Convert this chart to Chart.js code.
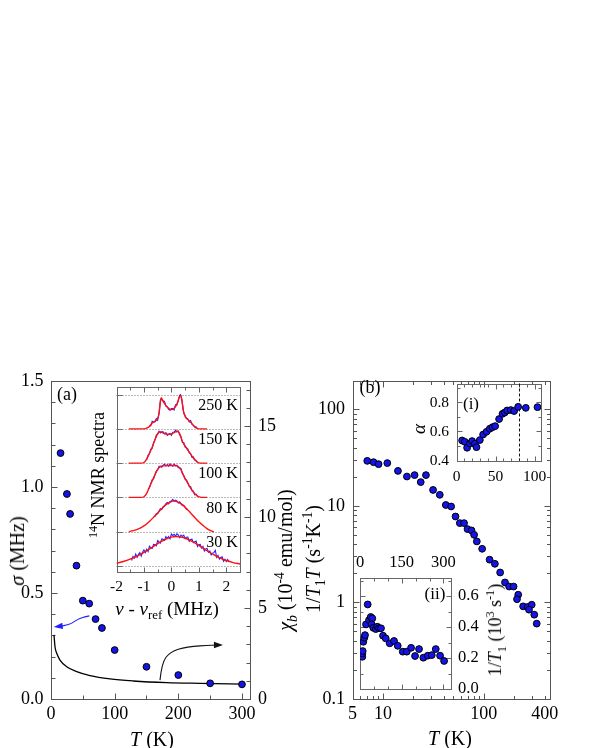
<!DOCTYPE html>
<html><head><meta charset="utf-8">
<script src="https://cdn.jsdelivr.net/npm/chart.js@4.4.1/dist/chart.umd.min.js"></script>
<style>
html,body{margin:0;padding:0;background:#fff;}
#wrap{position:relative;width:598px;height:748px;overflow:hidden;background:#fff;}
canvas{position:absolute;left:0;top:0;}
.lbl{position:absolute;font-family:"Liberation Serif","Times New Roman",serif;color:#000;white-space:nowrap;line-height:1;transform:translate(-50%,-50%);}
.rot{transform:translate(-50%,-50%) rotate(-90deg);}
sub,sup{font-size:0.68em;line-height:0;}
</style></head>
<body><div id="wrap">
<canvas id="cA" width="598" height="748"></canvas>
<canvas id="cAi" width="598" height="748"></canvas>
<canvas id="cB" width="598" height="748"></canvas>
<canvas id="cBi" width="598" height="748"></canvas>
<canvas id="cBii" width="598" height="748"></canvas>
<div class="lbl rot" style="left:17px;top:551px;font-size:20px;"><i>σ</i> (MHz)</div>
<div class="lbl rot" style="left:285px;top:560px;font-size:20px;"><i>χ<sub>b</sub></i> (10<sup>-4</sup> emu/mol)</div>
<div class="lbl" style="left:152px;top:739px;font-size:20px;"><i>T</i> (K)</div>
<div class="lbl" style="left:67px;top:394px;font-size:18px;">(a)</div>
<div class="lbl rot" style="left:98px;top:475px;font-size:18px;"><sup>14</sup>N NMR spectra</div>
<div class="lbl" style="left:167px;top:608px;font-size:19px;"><i>ν</i> - <i>ν</i><sub>ref</sub> (MHz)</div>
<div class="lbl rot" style="left:313px;top:559px;font-size:20px;">1/<i>T</i><sub>1</sub><i>T</i> (s<sup>-1</sup>K<sup>-1</sup>)</div>
<div class="lbl" style="left:450px;top:738px;font-size:20px;"><i>T</i> (K)</div>
<div class="lbl" style="left:370px;top:387px;font-size:18px;">(b)</div>
<div class="lbl" style="left:471px;top:403px;font-size:17px;">(i)</div>
<div class="lbl rot" style="left:418px;top:429px;font-size:19px;"><i>α</i></div>
<div class="lbl" style="left:435px;top:593px;font-size:17px;">(ii)</div>
<div class="lbl rot" style="left:495px;top:630px;font-size:18px;">1/<i>T</i><sub>1</sub> (10<sup>3</sup> s<sup>-1</sup>)</div>
</div>
<script>
// ---------------- DATA ----------------
// Panel (a): linewidth sigma vs T
const sigmaT   = [15, 25, 30, 40, 50, 60, 70, 80, 100, 150, 200, 250, 300];
const sigmaMHz = [1.16, 0.967, 0.873, 0.629, 0.464, 0.45, 0.377, 0.335, 0.231, 0.152, 0.113, 0.074, 0.069];
// Panel (a): susceptibility chi_b (10^-4 emu/mol) vs T
const chiT = [4.7, 6.3, 9, 14.1, 24.7, 40.4, 61.3, 92.7, 129, 182, 234, 302];
const chiB = [3.52, 2.87, 2.51, 2.14, 1.77, 1.50, 1.28, 1.10, 0.99, 0.90, 0.86, 0.82];
const sigmaTicks = [0, 0.5, 1.0, 1.5];
const sigmaTickLabels = ['0.0', '0.5', '1.0', '1.5'];
const chiTicks = [0, 5, 10, 15];
const chiTickLabels = ['0', '5', '10', '15'];
const tempTicksA = [0, 100, 200, 300];
const tempTickLabelsA = ['0', '100', '200', '300'];
// Inset (a): 14N NMR spectra (frequency MHz, normalised intensity)
const specLabels  = ['250 K', '150 K', '100 K', '80 K', '30 K'];
const specOffsets = [4, 3, 2, 1, 0];
const fit250 = [[-1.55,0],[-1.0,0],[-0.9,0.02],[-0.8,0.07],[-0.7,0.17],[-0.6,0.22],[-0.5,0.3],[-0.45,0.45],[-0.4,0.8],[-0.37,0.9],[-0.3,0.8],[-0.2,0.68],[-0.1,0.6],[0,0.56],[0.1,0.6],[0.2,0.72],[0.28,0.9],[0.33,0.97],[0.38,0.85],[0.43,0.55],[0.5,0.36],[0.6,0.27],[0.7,0.2],[0.8,0.1],[0.9,0.03],[1.0,0],[1.3,0]];
const fit150 = [[-1.55,0],[-1.1,0],[-1.0,0.02],[-0.9,0.12],[-0.8,0.28],[-0.7,0.46],[-0.6,0.68],[-0.5,0.86],[-0.42,0.92],[-0.3,0.88],[-0.15,0.84],[0,0.85],[0.12,0.9],[0.22,0.93],[0.3,0.86],[0.4,0.63],[0.5,0.5],[0.6,0.38],[0.7,0.26],[0.8,0.15],[0.9,0.06],[1.0,0.01],[1.1,0],[1.3,0]];
const fit100 = [[-1.55,0],[-1.1,0],[-1.0,0.02],[-0.9,0.12],[-0.8,0.3],[-0.7,0.48],[-0.6,0.66],[-0.5,0.82],[-0.4,0.9],[-0.3,0.92],[-0.1,0.93],[0.1,0.93],[0.25,0.9],[0.35,0.8],[0.45,0.63],[0.55,0.48],[0.65,0.34],[0.75,0.21],[0.85,0.11],[0.95,0.04],[1.05,0.01],[1.15,0],[1.3,0]];
const fit80  = [[-1.55,0],[-1.4,0.03],[-1.2,0.08],[-1.0,0.17],[-0.8,0.3],[-0.6,0.46],[-0.4,0.63],[-0.2,0.79],[0,0.88],[0.1,0.9],[0.2,0.88],[0.4,0.79],[0.6,0.63],[0.8,0.46],[1.0,0.29],[1.2,0.15],[1.35,0.06],[1.5,0.01],[1.55,0]];
const fit30  = [[-2.0,0.08],[-1.75,0.13],[-1.5,0.2],[-1.25,0.29],[-1.0,0.4],[-0.75,0.52],[-0.5,0.65],[-0.25,0.76],[0,0.84],[0.15,0.86],[0.3,0.85],[0.5,0.81],[0.75,0.72],[1.0,0.6],[1.25,0.47],[1.5,0.35],[1.75,0.24],[2.0,0.16],[2.25,0.1],[2.5,0.06]];
const raw250 = [[-0.8,0.09],[-0.75,0.09],[-0.7,0.22],[-0.65,0.2],[-0.6,0.2],[-0.55,0.3],[-0.5,0.25],[-0.45,0.46],[-0.4,0.83],[-0.37,0.89],[-0.33,0.82],[-0.3,0.82],[-0.25,0.8],[-0.2,0.66],[-0.15,0.64],[-0.1,0.57],[-0.05,0.54],[0,0.59],[0.05,0.59],[0.1,0.55],[0.15,0.7],[0.2,0.7],[0.25,0.82],[0.3,0.98],[0.33,1.0],[0.36,0.94],[0.4,0.74],[0.45,0.46],[0.5,0.39],[0.55,0.3],[0.6,0.29],[0.65,0.2],[0.7,0.24],[0.75,0.13],[0.8,0.11],[0.85,0.05],[0.9,0.06],[0.95,0.0]];
const raw150 = [[-0.9,0.1],[-0.85,0.23],[-0.8,0.28],[-0.75,0.41],[-0.7,0.43],[-0.65,0.59],[-0.6,0.67],[-0.55,0.82],[-0.5,0.84],[-0.45,0.93],[-0.4,0.88],[-0.35,0.91],[-0.3,0.91],[-0.25,0.85],[-0.2,0.89],[-0.15,0.81],[-0.1,0.84],[-0.05,0.865],[0,0.81],[0.05,0.9],[0.1,0.9],[0.15,0.96],[0.2,0.91],[0.25,0.94],[0.3,0.83],[0.35,0.77],[0.4,0.61],[0.45,0.6],[0.5,0.47],[0.55,0.45],[0.6,0.41],[0.65,0.3],[0.7,0.28],[0.75,0.17],[0.8,0.18],[0.85,0.09],[0.9,0.08],[0.95,0.01]];
const raw100 = [[-0.85,0.24],[-0.8,0.28],[-0.75,0.4],[-0.7,0.52],[-0.65,0.54],[-0.6,0.66],[-0.55,0.77],[-0.5,0.8],[-0.45,0.91],[-0.4,0.91],[-0.35,0.88],[-0.3,0.94],[-0.25,0.965],[-0.2,0.92],[-0.15,0.96],[-0.1,0.91],[-0.05,0.98],[0,0.94],[0.05,0.91],[0.1,0.97],[0.15,0.92],[0.2,0.94],[0.25,0.87],[0.3,0.87],[0.35,0.84],[0.4,0.7],[0.45,0.64],[0.5,0.525],[0.55,0.51],[0.6,0.43],[0.65,0.32],[0.7,0.315],[0.75,0.2],[0.8,0.18],[0.85,0.08],[0.9,0.095],[0.95,0.03]];
const raw80  = [[-0.65,0.44],[-0.6,0.45],[-0.55,0.53],[-0.5,0.525],[-0.45,0.6],[-0.4,0.67],[-0.35,0.65],[-0.3,0.73],[-0.25,0.75],[-0.2,0.82],[-0.15,0.85],[-0.1,0.815],[-0.05,0.89],[0,0.89],[0.05,0.94],[0.1,0.89],[0.15,0.92],[0.2,0.9],[0.25,0.84],[0.3,0.87],[0.35,0.82],[0.4,0.76],[0.45,0.77],[0.5,0.71],[0.55,0.65],[0.6,0.65]];
const raw30  = [[-1.45,0.16],[-1.4,0.28],[-1.35,0.23],[-1.3,0.35],[-1.25,0.25],[-1.2,0.34],[-1.15,0.39],[-1.1,0.285],[-1.05,0.4],[-1.0,0.47],[-0.95,0.39],[-0.9,0.49],[-0.85,0.42],[-0.8,0.58],[-0.75,0.53],[-0.7,0.51],[-0.65,0.63],[-0.6,0.62],[-0.55,0.59],[-0.5,0.74],[-0.45,0.7],[-0.4,0.67],[-0.35,0.79],[-0.3,0.78],[-0.25,0.75],[-0.2,0.86],[-0.15,0.81],[-0.1,0.86],[-0.05,0.79],[0,0.93],[0.05,0.89],[0.1,0.925],[0.15,0.87],[0.2,0.94],[0.25,0.905],[0.3,0.83],[0.35,0.9],[0.4,0.86],[0.45,0.9],[0.5,0.8],[0.55,0.84],[0.6,0.845],[0.65,0.72],[0.7,0.77],[0.75,0.78],[0.8,0.68],[0.85,0.71],[0.9,0.73],[0.95,0.57],[1.0,0.62],[1.05,0.63],[1.1,0.52],[1.15,0.57],[1.2,0.44],[1.25,0.5],[1.3,0.515],[1.35,0.4],[1.4,0.44],[1.45,0.325],[1.5,0.37],[1.55,0.39],[1.6,0.46],[1.65,0.25],[1.7,0.31],[1.75,0.2],[1.8,0.25],[1.85,0.27],[1.9,0.14],[1.95,0.195],[2.0,0.13],[2.05,0.19],[2.1,0.12]];
const freqTicks = [-2, -1, 0, 1, 2];
const freqTickLabels = ['-2', '-1', '0', '1', '2'];
// Panel (b): 1/T1T vs T
const rateT = [7.0, 8.08, 9.06, 11.06, 14.1, 17.3, 20.6, 23.7, 26.7, 31.4, 36.6, 42.0, 47.4, 52.4, 57.8, 63.7, 68.9, 75.5, 80.1, 85.2, 96.2, 114, 128.6, 145, 162, 178, 197, 219, 213, 245, 272, 298, 280, 316, 334];
const rateT1T = [29.2, 28.3, 27.0, 27.7, 23.0, 20.1, 20.8, 17.6, 20.8, 14.6, 13.0, 10.2, 9.84, 7.75, 6.62, 6.62, 5.74, 5.56, 5.01, 4.28, 3.59, 2.77, 2.51, 2.04, 1.61, 1.46, 1.46, 1.20, 1.08, 0.91, 0.896, 0.946, 0.841, 0.746, 0.603];
const tempTicksB = [5, 10, 100, 400];
const tempTickLabelsB = ['5', '10', '100', '400'];
const rateTicks = [0.1, 1, 10, 100];
const rateTickLabels = ['0.1', '1', '10', '100'];
// Inset (i): stretching exponent alpha vs T
const alphaT = [7.2, 10.6, 13.6, 17.1, 20, 23.5, 25.6, 29.9, 34.1, 38.5, 42.7, 46.2, 49.5, 54.6, 59, 61.9, 64.9, 69.6, 73.8, 79, 88.8, 103.8];
const alphaV = [0.538, 0.529, 0.488, 0.517, 0.534, 0.515, 0.492, 0.541, 0.579, 0.598, 0.619, 0.630, 0.637, 0.686, 0.722, 0.731, 0.745, 0.748, 0.741, 0.770, 0.763, 0.768];
const alphaMarkT = [80];
const alphaTicks = [0.4, 0.6, 0.8];
const alphaTickLabels = ['0.4', '0.6', '0.8'];
const alphaTTicks = [0, 50, 100];
const alphaTTickLabels = ['0', '50', '100'];
// Inset (ii): 1/T1 (10^3 s^-1) vs T
const t1T = [8.3, 8.3, 9.7, 11.9, 15.5, 18, 21.6, 27.7, 32.4, 38.5, 44.2, 42, 47.8, 56.5, 62.2, 68.3, 75.5, 82.7, 92.4, 106.8, 122.3, 135.6, 153.6, 168, 183.5, 197.8, 212.2, 227.7, 243.5, 257.9, 272.3, 287.8, 302.2];
const t1V = [0.208, 0.230, 0.245, 0.305, 0.331, 0.348, 0.417, 0.546, 0.445, 0.465, 0.456, 0.417, 0.395, 0.387, 0.402, 0.392, 0.392, 0.344, 0.327, 0.295, 0.310, 0.279, 0.241, 0.241, 0.266, 0.213, 0.258, 0.202, 0.215, 0.219, 0.258, 0.215, 0.181];
const t1Ticks = [0, 0.2, 0.4, 0.6];
const t1TickLabels = ['0.0', '0.2', '0.4', '0.6'];
const t1TTicks = [0, 150, 300];
const t1TTickLabels = ['0', '150', '300'];
// Annotation arrows (data coordinates)
const arrowSigma = [[60.2,0.392],[52,0.386],[45.5,0.381],[38,0.368],[32.5,0.357],[22,0.346],[9,0.341]];
const arrowChi = [[171.2,1.04],[173.9,1.96],[186.9,2.6],[213.1,2.87],[254.9,2.97],[265.4,2.97]];

// ---------------- HELPERS ----------------
const FONT = '"Liberation Serif", "Times New Roman", serif';
const BLUE = '#1414e8';
const W = 598, H = 748;
function axis(type, pos, min, max, vals, labels, size, pad, boxSize, show) {
  return {
    type, position: pos, min, max, display: true,
    grid: { display: false, drawTicks: false }, border: { display: false },
    afterFit: s => { if (s.isHorizontal()) s.height = boxSize; else s.width = boxSize; },
    afterBuildTicks: s => { s.ticks = vals.map(v => ({ value: v })); },
    ticks: { display: show !== false, autoSkip: false, maxRotation: 0, minRotation: 0, padding: pad,
      color: '#000', font: { family: FONT, size }, callback: (v, i) => labels[i] }
  };
}
function rng(a, b, s) { const o = []; for (let k = 0; a + k * s <= b + 1e-9; k++) o.push(+(a + k * s).toFixed(6)); return o; }
function logMajor(min, max) { const o = []; for (let e = -3; e <= 4; e++) { const v = Math.pow(10, e); if (v >= min && v <= max) o.push(v); } return o; }
function logMinor(min, max) { const o = []; for (let e = -3; e <= 4; e++) for (let m = 2; m <= 9; m++) { const v = m * Math.pow(10, e); if (v >= min && v <= max) o.push(v); } return o; }
function framePlugin(spec) {
  return { id: 'frameTicks', beforeDatasetsDraw(chart) {
    const ctx = chart.ctx, a = chart.chartArea;
    ctx.save(); ctx.strokeStyle = spec.color; ctx.lineWidth = 1;
    const l = Math.round(a.left) + 0.5, t = Math.round(a.top) + 0.5, r = Math.round(a.right) + 0.5, b = Math.round(a.bottom) + 0.5;
    ctx.strokeRect(l, t, r - l, b - t);
    spec.axes.forEach(ax => {
      const sc = chart.scales[ax.id];
      const draw = (vals, len) => vals.forEach(v => {
        if (v < sc.min - 1e-9 || v > sc.max + 1e-9) return;
        const p = Math.round(sc.getPixelForValue(v)) + 0.5;
        ax.sides.forEach(side => {
          ctx.beginPath();
          if (side === 'bottom') { ctx.moveTo(p, b); ctx.lineTo(p, b - len); }
          else if (side === 'top') { ctx.moveTo(p, t); ctx.lineTo(p, t + len); }
          else if (side === 'left') { ctx.moveTo(l, p); ctx.lineTo(l + len, p); }
          else { ctx.moveTo(r, p); ctx.lineTo(r - len, p); }
          ctx.stroke();
        });
      });
      draw(ax.minor || [], spec.minorLen); draw(ax.major || [], spec.majorLen);
    });
    ctx.restore();
  } };
}
function pts(xs, ys) { return xs.map((x, i) => ({ x, y: ys[i] })); }
function baseOpts(pad, scales) {
  return { responsive: false, animation: false, events: [], devicePixelRatio: 1,
    layout: { padding: pad }, scales,
    plugins: { legend: { display: false }, tooltip: { enabled: false } } };
}
function scatterDs(data, xId, yId) {
  return { data, xAxisID: xId, yAxisID: yId, showLine: false, pointRadius: 3.4, pointHoverRadius: 3.4,
    pointBackgroundColor: BLUE, pointBorderColor: '#000', pointBorderWidth: 1 };
}
function drawArrow(ctx, p, color, lw) {
  ctx.save(); ctx.strokeStyle = color; ctx.fillStyle = color; ctx.lineWidth = lw;
  const n = p.length;
  ctx.beginPath(); ctx.moveTo(p[0].x, p[0].y);
  for (let i = 1; i < n - 2; i++) { ctx.quadraticCurveTo(p[i].x, p[i].y, (p[i].x + p[i + 1].x) / 2, (p[i].y + p[i + 1].y) / 2); }
  ctx.quadraticCurveTo(p[n - 2].x, p[n - 2].y, p[n - 1].x, p[n - 1].y);
  ctx.stroke();
  const ang = Math.atan2(p[n - 1].y - p[n - 2].y, p[n - 1].x - p[n - 2].x);
  const tip = { x: p[n - 1].x + Math.cos(ang) * 3, y: p[n - 1].y + Math.sin(ang) * 3 };
  const L = 9, Wd = 3.2;
  ctx.beginPath(); ctx.moveTo(tip.x, tip.y);
  ctx.lineTo(tip.x - L * Math.cos(ang) + Wd * Math.sin(ang), tip.y - L * Math.sin(ang) - Wd * Math.cos(ang));
  ctx.lineTo(tip.x - L * Math.cos(ang) - Wd * Math.sin(ang), tip.y - L * Math.sin(ang) + Wd * Math.cos(ang));
  ctx.closePath(); ctx.fill();
  ctx.restore();
}

// ---------------- PANEL (a) ----------------
// chart area: x 51..250, y 381..699
new Chart(document.getElementById('cA'), {
  type: 'scatter',
  data: { datasets: [
    scatterDs(pts(sigmaT, sigmaMHz), 'x', 'y'),
    { data: pts(chiT, chiB), xAxisID: 'x', yAxisID: 'y1', showLine: true, pointRadius: 0, borderColor: '#000', borderWidth: 1.3, cubicInterpolationMode: 'monotone' }
  ] },
  options: baseOpts({ left: 0, right: 0, top: 381, bottom: 0 }, {
    x: axis('linear', 'bottom', 0, 312.6, tempTicksA, tempTickLabelsA, 18, 4, H - 699),
    y: axis('linear', 'left', 0, 1.5, sigmaTicks, sigmaTickLabels, 18, 7.5, 51),
    y1: axis('linear', 'right', 0, 17.47, chiTicks, chiTickLabels, 18, 8, W - 250)
  }),
  plugins: [framePlugin({ color: '#555', majorLen: 6, minorLen: 4, axes: [
    { id: 'x', major: rng(0, 300, 100), minor: rng(0, 300, 50), sides: ['bottom'] },
    { id: 'y', major: rng(0, 1.5, 0.5), minor: rng(0, 1.5, 0.1), sides: ['left'] },
    { id: 'y1', major: rng(0, 15, 5), minor: rng(0, 17, 1), sides: ['right'] }
  ] }), { id: 'arrows', afterDatasetsDraw(chart) {
    const sx = chart.scales.x, sy = chart.scales.y, sy1 = chart.scales.y1;
    drawArrow(chart.ctx, arrowSigma.map(([t, v]) => ({ x: sx.getPixelForValue(t), y: sy.getPixelForValue(v) })), '#1f1fff', 1.1);
    drawArrow(chart.ctx, arrowChi.map(([t, v]) => ({ x: sx.getPixelForValue(t), y: sy1.getPixelForValue(v) })), '#111', 1.1);
  } }]
});

// ---------------- INSET (a) ----------------
// chart area: x 116.5..240, y 387..572
const fits = [fit250, fit150, fit100, fit80, fit30];
const raws = [raw250, raw150, raw100, raw80, raw30];
const specDs = [];
fits.forEach((f, i) => specDs.push({ data: f.map(([x, y]) => ({ x, y: y + specOffsets[i] })), showLine: true, pointRadius: 0,
  borderColor: '#ff1010', borderWidth: 1.4, cubicInterpolationMode: 'monotone', order: 0 }));
raws.forEach((r, i) => specDs.push({ data: r.map(([x, y]) => ({ x, y: y + specOffsets[i] })), showLine: true, pointRadius: 0,
  borderColor: '#2424ff', borderWidth: 1.1, tension: 0, order: 1 }));
new Chart(document.getElementById('cAi'), {
  type: 'scatter',
  data: { datasets: specDs },
  options: baseOpts({ left: 116.5, right: W - 240, top: 387, bottom: 0 }, {
    x: axis('linear', 'bottom', -2, 2.5, freqTicks, freqTickLabels, 15.5, 6, H - 572),
    y: axis('linear', 'left', -0.175, 5.22, [0, 1, 2, 3, 4, 5], ['', '', '', '', '', ''], 12, 0, 0, false)
  }),
  plugins: [framePlugin({ color: '#666', majorLen: 5, minorLen: 3, axes: [
    { id: 'x', major: rng(-2, 2, 1), minor: rng(-2, 2.5, 0.5), sides: ['bottom', 'top'] },
    { id: 'y', major: [0, 1, 2, 3, 4, 5], minor: [], sides: ['left'] }
  ] }), { id: 'baselines', beforeDatasetsDraw(chart) {
    const ctx = chart.ctx, sx = chart.scales.x, sy = chart.scales.y;
    ctx.save(); ctx.strokeStyle = '#777'; ctx.lineWidth = 1; ctx.setLineDash([1, 2]);
    specOffsets.concat([5]).forEach(o => {
      const y = Math.round(sy.getPixelForValue(o)) + 0.5;
      ctx.beginPath(); ctx.moveTo(sx.getPixelForValue(-2), y); ctx.lineTo(sx.getPixelForValue(2.5), y); ctx.stroke();
    });
    ctx.restore();
  }, afterDatasetsDraw(chart) {
    const ctx = chart.ctx, sx = chart.scales.x, sy = chart.scales.y;
    ctx.save(); ctx.fillStyle = '#000'; ctx.font = '16px ' + FONT; ctx.textAlign = 'right'; ctx.textBaseline = 'middle';
    specLabels.forEach((s, i) => ctx.fillText(s, sx.getPixelForValue(2.42), sy.getPixelForValue(specOffsets[i] + 0.68)));
    ctx.restore();
  } }]
});

// ---------------- PANEL (b) ----------------
// chart area: x 352.5..549.5, y 381..699
new Chart(document.getElementById('cB'), {
  type: 'scatter',
  data: { datasets: [scatterDs(pts(rateT, rateT1T), 'x', 'y')] },
  options: baseOpts({ left: 0, right: W - 549.5, top: 381, bottom: 0 }, {
    x: axis('logarithmic', 'bottom', 5, 447, tempTicksB, tempTickLabelsB, 18, 4, H - 699),
    y: axis('logarithmic', 'left', 0.1, 196, rateTicks, rateTickLabels, 18, 7.5, 352.5)
  }),
  plugins: [framePlugin({ color: '#555', majorLen: 6, minorLen: 3.5, axes: [
    { id: 'x', major: logMajor(5, 447), minor: logMinor(5, 447), sides: ['bottom', 'top'] },
    { id: 'y', major: logMajor(0.1, 196), minor: logMinor(0.1, 196), sides: ['left', 'right'] }
  ] })]
});

// ---------------- INSET (i) ----------------
// chart area: x 456.5..541, y 383.5..460.5
new Chart(document.getElementById('cBi'), {
  type: 'scatter',
  data: { datasets: [scatterDs(pts(alphaT, alphaV), 'x', 'y')] },
  options: baseOpts({ left: 0, right: W - 541, top: 383.5, bottom: 0 }, {
    x: axis('linear', 'bottom', 0, 108.3, alphaTTicks, alphaTTickLabels, 15.5, 7.5, H - 460.5),
    y: axis('linear', 'left', 0.4, 0.931, alphaTicks, alphaTickLabels, 15.5, 7.5, 456.5)
  }),
  plugins: [framePlugin({ color: '#666', majorLen: 5, minorLen: 3, axes: [
    { id: 'x', major: rng(0, 100, 50), minor: rng(0, 100, 10), sides: ['bottom', 'top'] },
    { id: 'y', major: rng(0.4, 0.8, 0.2), minor: rng(0.4, 0.9, 0.1), sides: ['left', 'right'] }
  ] }), { id: 'marker', beforeDatasetsDraw(chart) {
    const ctx = chart.ctx, sx = chart.scales.x, a = chart.chartArea;
    ctx.save(); ctx.strokeStyle = '#111'; ctx.lineWidth = 1; ctx.setLineDash([3, 2]);
    alphaMarkT.forEach(t => { const x = Math.round(sx.getPixelForValue(t)) + 0.5; ctx.beginPath(); ctx.moveTo(x, a.top); ctx.lineTo(x, a.bottom); ctx.stroke(); });
    ctx.restore();
  } }]
});

// ---------------- INSET (ii) ----------------
// chart area: x 360..451, y 577.5..689
new Chart(document.getElementById('cBii'), {
  type: 'scatter',
  data: { datasets: [scatterDs(pts(t1T, t1V), 'x', 'y')] },
  options: baseOpts({ left: 360, right: 0, top: 0, bottom: H - 689 }, {
    x: axis('linear', 'top', 0, 327, t1TTicks, t1TTickLabels, 16.5, 5, 577.5),
    y: axis('linear', 'right', 0, 0.72, t1Ticks, t1TickLabels, 16.5, 7, W - 451)
  }),
  plugins: [framePlugin({ color: '#666', majorLen: 5, minorLen: 3, axes: [
    { id: 'x', major: rng(0, 300, 150), minor: rng(0, 300, 50), sides: ['bottom', 'top'] },
    { id: 'y', major: rng(0, 0.6, 0.2), minor: rng(0, 0.7, 0.1), sides: ['left', 'right'] }
  ] })]
});
</script>
</body></html>
